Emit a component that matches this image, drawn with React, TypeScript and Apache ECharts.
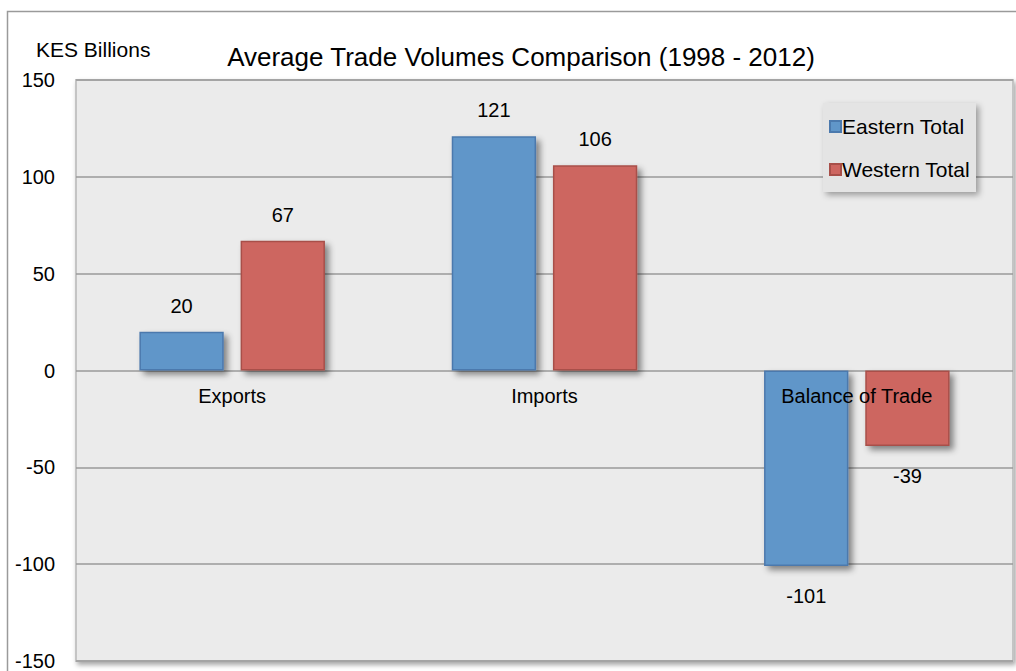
import React, { useEffect, useRef } from "react";
import * as echarts from "echarts";

const categories = ["Exports", "Imports", "Balance of Trade"];
const easternTotal = [20, 121, -101];
const westernTotal = [67, 106, -39];
const seriesNames = ["Eastern Total", "Western Total"];
const yTicks = { min: -150, max: 150, interval: 50 };

const FONT = "'Liberation Sans', Arial, Helvetica, sans-serif";
const W = 1016;
const H = 671;
const GRID = { left: 76, right: 3, top: 80, bottom: 10 };

function toData(values: number[]) {
  return values.map((v) => ({
    value: v,
    label: { position: v < 0 ? "bottom" : "top", distance: v < 0 ? 20 : 16 },
  }));
}

export default function App() {
  const ref = useRef<HTMLDivElement>(null);
  useEffect(() => {
    document.body.style.margin = "0";
    const chart = echarts.init(ref.current!, null, { renderer: "svg" });
    const gridHeight = H - GRID.top - GRID.bottom;
    const zeroOffset = -gridHeight * (0 - yTicks.min) / (yTicks.max - yTicks.min);
    const barStyle = (color: string, border: string) => ({
      color,
      borderColor: border,
      borderWidth: 1.5,
      shadowBlur: 6,
      shadowOffsetX: 4,
      shadowOffsetY: 4,
      shadowColor: "rgba(0,0,0,0.45)",
    });
    chart.setOption({
      animation: false,
      backgroundColor: "#ffffff",
      textStyle: { fontFamily: FONT },
      title: {
        text: "Average Trade Volumes Comparison (1998 - 2012)",
        left: 516,
        textAlign: "center",
        top: 39,
        textStyle: { fontFamily: FONT, fontSize: 26, fontWeight: "normal", color: "#000" },
      },
      graphic: [
        {
          type: "rect",
          shape: { x: 7.5, y: 11.5, width: 1040, height: 700 },
          style: { fill: "none", stroke: "#9a9a9a", lineWidth: 1.5 },
          z: -10,
          silent: true,
        },
        {
          type: "text",
          left: 36,
          top: 39,
          style: { text: "KES Billions", font: `21px ${FONT}`, fill: "#000" },
        },
      ],
      legend: {
        orient: "vertical",
        left: 823,
        top: 103,
        padding: [13, 6, 12, 6],
        itemGap: 22,
        itemWidth: 11,
        itemHeight: 11,
        icon: "rect",
        backgroundColor: "#e4e4e4",
        shadowBlur: 6,
        shadowOffsetX: 3,
        shadowOffsetY: 3,
        shadowColor: "rgba(0,0,0,0.35)",
        textStyle: { fontFamily: FONT, fontSize: 21, color: "#000", padding: [0, 0, 0, -4] },
        data: seriesNames,
      },
      grid: {
        show: true,
        ...GRID,
        outerBoundsMode: "none",
        containLabel: false,
        backgroundColor: "#ebebeb",
        borderColor: "#c4c4c4",
        borderWidth: 2,
        shadowBlur: 5,
        shadowOffsetX: 2,
        shadowOffsetY: 3,
        shadowColor: "rgba(0,0,0,0.35)",
      },
      xAxis: {
        type: "category",
        data: categories,
        z: 5,
        position: "bottom",
        offset: zeroOffset,
        axisLine: { show: false, onZero: false },
        axisTick: { show: false },
        axisLabel: { fontFamily: FONT, fontSize: 20, color: "#000", margin: 15 },
      },
      yAxis: {
        type: "value",
        min: yTicks.min,
        max: yTicks.max,
        interval: yTicks.interval,
        axisLine: { show: false },
        axisTick: { show: false },
        splitLine: { lineStyle: { color: "#9a9a9a", width: 1.5 } },
        axisLabel: { fontFamily: FONT, fontSize: 20, color: "#000", margin: 21, align: "right" },
      },
      series: [
        {
          name: seriesNames[0],
          type: "bar",
          data: toData(easternTotal),
          barWidth: "27%",
          barGap: "20%",
          itemStyle: barStyle("#6096c9", "#4b79ad"),
          label: { show: true, fontFamily: FONT, fontSize: 20, color: "#000" },
        },
        {
          name: seriesNames[1],
          type: "bar",
          data: toData(westernTotal),
          barWidth: "27%",
          barGap: "20%",
          itemStyle: barStyle("#cd6660", "#a84f49"),
          label: { show: true, fontFamily: FONT, fontSize: 20, color: "#000" },
        },
      ],
    });
    return () => chart.dispose();
  }, []);
  return (
    <div
      ref={ref}
      style={{ position: "absolute", left: 0, top: 0, width: W, height: H }}
    />
  );
}
